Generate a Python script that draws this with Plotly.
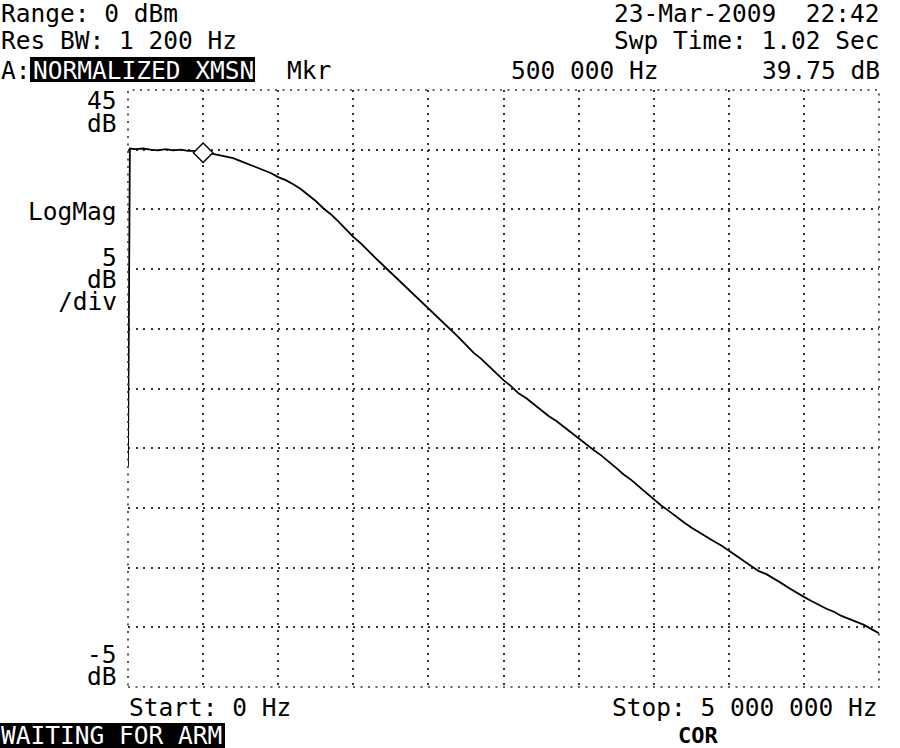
import plotly.graph_objects as go

# ---- data ----
freq_mhz = [0, 0.0125] + [round(0.05 * i, 2) for i in range(1, 101)]
level_db = [13.5, 40.1,
            40.05, 40.1, 40.0, 39.95, 40.05, 39.95, 40.0, 39.9, 39.9, 39.75,
            39.7, 39.55, 39.45, 39.3, 39.05, 38.8, 38.6, 38.3, 38.05, 37.7,
            37.45, 37.1, 36.7, 36.2, 35.7, 35.1, 34.6, 34.0, 33.35, 32.7,
            32.15, 31.5, 30.9, 30.3, 29.7, 29.1, 28.5, 27.9, 27.35, 26.7,
            26.1, 25.5, 24.95, 24.3, 23.65, 23.0, 22.5, 21.9, 21.3, 20.7,
            20.2, 19.6, 19.2, 18.7, 18.2, 17.7, 17.3, 16.8, 16.35, 15.85,
            15.35, 14.85, 14.4, 13.9, 13.35, 12.8, 12.35, 11.8, 11.25, 10.75,
            10.2, 9.75, 9.25, 8.8, 8.35, 7.95, 7.6, 7.2, 6.85, 6.45,
            6.0, 5.55, 5.1, 4.7, 4.45, 4.1, 3.7, 3.3, 2.9, 2.55,
            2.2, 1.85, 1.55, 1.3, 0.95, 0.7, 0.45, 0.2, -0.15, -0.5]
freq_hz = [f * 1e6 for f in freq_mhz]

marker_hz = [500000]
marker_db = [39.75]

x_range = [0, 5000000]
y_range = [-5, 45]

W, H = 900, 748
L, R, T, B = 128, 21, 90, 61
PW, PH = W - L - R, H - T - B

FONT = "DejaVu Sans Mono"
FS = 24.5

def px(x):
    return (x - L) / PW

def py(y):
    return (H - B - y) / PH

fig = go.Figure()
fig.add_trace(go.Scatter(x=freq_hz, y=level_db, mode="lines",
                         line=dict(color="black", width=1.8),
                         hoverinfo="skip", showlegend=False))
fig.add_trace(go.Scatter(x=marker_hz, y=marker_db, mode="markers",
                         marker=dict(symbol="diamond", size=15, color="white",
                                     line=dict(color="black", width=1.4)),
                         hoverinfo="skip", showlegend=False))

grid = dict(showgrid=True, gridcolor="#333333", gridwidth=1.6,
            griddash="2px,5.5px", zeroline=False, showline=False,
            showticklabels=False, ticks="")
fig.update_xaxes(range=x_range, dtick=500000, tick0=0, **grid)
fig.update_yaxes(range=y_range, dtick=5, tick0=-5, **grid)

# dotted frame
fig.add_shape(type="rect", xref="paper", yref="paper", x0=0, x1=1, y0=0, y1=1,
              line=dict(color="#333333", width=1.6, dash="2px,5.5px"), layer="above")

# black highlight boxes
def box(x0, x1, y0, y1):
    fig.add_shape(type="rect", xref="paper", yref="paper",
                  x0=px(x0), x1=px(x1), y0=py(y1), y1=py(y0),
                  fillcolor="black", line=dict(width=0), layer="above")

box(30, 255, 57, 82)
box(0, 225, 723, 748)

def txt(s, x, y, anchor="left", color="black", size=FS, bold=False, fam=FONT, h=27):
    fig.add_annotation(text=("<b>%s</b>" % s) if bold else s,
                       x=px(x), y=py(y), xref="paper", yref="paper",
                       xanchor=anchor, yanchor="middle", showarrow=False,
                       font=dict(family=fam, size=size, color=color),
                       height=h, valign="middle", borderpad=0)

# header
txt("Range: 0 dBm", 0, 14)
txt("Res BW: 1 200 Hz", 0, 40)
txt("A:", 0, 70)
txt("NORMALIZED XMSN", 32, 70, color="white")
txt("Mkr", 286, 70)
txt("500 000 Hz", 510, 70)
txt("39.75 dB", 881, 70, anchor="right")
txt("23-Mar-2009  22:42", 881, 14, anchor="right")
txt("Swp Time: 1.02 Sec", 881, 40, anchor="right")

# y-axis labels
txt("45", 118, 100, anchor="right", h=22)
txt("dB", 118, 123, anchor="right", h=22)
txt("LogMag", 118, 212, anchor="right")
txt("5", 118, 257, anchor="right", h=22)
txt("dB", 118, 279, anchor="right", h=22)
txt("/div", 118, 301, anchor="right", h=22)
txt("-5", 118, 654, anchor="right", h=22)
txt("dB", 118, 676, anchor="right", h=22)

# footer
txt("Start: 0 Hz", 128, 707)
txt("Stop: 5 000 000 Hz", 879, 707, anchor="right")
txt("WAITING FOR ARM", 0, 735, color="white", h=26)
txt("COR", 698, 735, anchor="center", bold=True, size=22, h=26)

fig.update_layout(width=W, height=H, margin=dict(l=L, r=R, t=T, b=B),
                  paper_bgcolor="white", plot_bgcolor="white")

fig.write_html("out.html", config={"displayModeBar": False},
               post_script="document.body.style.margin='0';document.body.style.overflow='hidden';")
